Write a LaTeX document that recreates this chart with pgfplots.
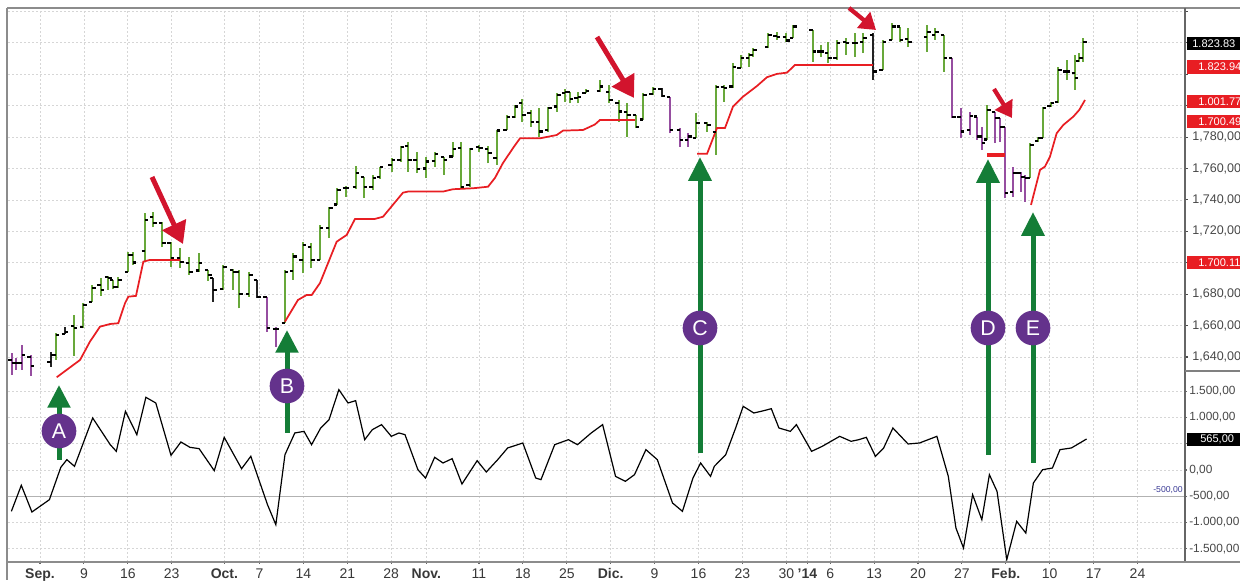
\documentclass[border=0pt]{standalone}
\usepackage{fontspec}
\setmainfont{Liberation Sans}
\usepackage{pgfplots}
\usepackage{pgfplotstable}
\pgfplotsset{compat=1.18}
\usetikzlibrary{arrows.meta}

\definecolor{bargreen}{RGB}{104,168,58}
\definecolor{barpurple}{RGB}{150,78,160}
\definecolor{stopred}{RGB}{232,30,35}
\definecolor{arrowgreen}{RGB}{20,125,55}
\definecolor{circpurple}{RGB}{100,50,140}
\definecolor{arrowred}{RGB}{210,20,45}
\definecolor{framegray}{RGB}{140,140,140}
\definecolor{gridgray}{RGB}{214,214,214}
\definecolor{labelblue}{RGB}{60,60,150}

\pgfdeclareplotmark{ltick}{\pgfpathmoveto{\pgfqpoint{-2.6pt}{0pt}}\pgfpathlineto{\pgfqpoint{0pt}{0pt}}\pgfusepathqstroke}
\pgfdeclareplotmark{rtick}{\pgfpathmoveto{\pgfqpoint{0pt}{0pt}}\pgfpathlineto{\pgfqpoint{2.6pt}{0pt}}\pgfusepathqstroke}

\pgfplotstableread{
x o h l c k
-3.22 1638.0 1642.4 1628.6 1636.2 2
-2.73 1636.2 1639.2 1631.8 1636.4 2
-2.08 1636.4 1647.7 1631.8 1641.3 2
-1.03 1640.2 1641.3 1628.1 1634.3 2
1.22 1637.0 1643.4 1633.9 1641.3 0
1.79 1641.3 1655.1 1638.1 1654.0 1
2.85 1654.7 1659.3 1654.7 1656.1 0
3.87 1659.8 1666.8 1640.9 1658.3 1
4.93 1659.0 1674.2 1658.3 1673.1 1
5.96 1675.2 1685.9 1675.2 1683.8 1
6.91 1685.9 1690.1 1678.9 1682.7 1
7.78 1690.8 1691.6 1682.7 1690.1 1
8.35 1689.1 1689.1 1683.1 1684.4 1
8.92 1684.4 1690.8 1683.8 1689.1 1
10.06 1694.3 1707.1 1694.3 1705.0 1
10.56 1705.0 1707.1 1698.6 1700.1 1
11.96 1707.7 1731.5 1700.7 1727.2 1
12.90 1729.3 1732.5 1722.6 1725.1 1
13.93 1725.1 1726.1 1709.9 1712.4 1
14.89 1712.4 1713.4 1697.5 1702.9 1
15.95 1702.9 1709.2 1696.5 1700.7 1
17.00 1699.7 1703.9 1692.2 1694.3 1
18.11 1695.0 1706.0 1694.3 1699.7 1
19.17 1695.4 1695.4 1688.6 1692.2 1
19.74 1690.1 1690.1 1675.2 1682.7 0
20.88 1683.5 1698.6 1682.7 1697.1 1
22.02 1695.4 1695.9 1682.7 1694.3 1
22.70 1694.3 1695.4 1671.0 1680.1 1
23.84 1680.1 1694.1 1678.4 1692.2 1
24.72 1689.1 1689.1 1677.4 1678.2 0
25.82 1678.2 1678.4 1656.1 1658.5 2
26.88 1657.9 1659.3 1646.4 1657.9 2
27.90 1661.8 1695.4 1661.5 1694.3 1
28.85 1694.7 1706.0 1689.1 1703.9 1
29.92 1701.8 1713.4 1693.3 1711.3 1
30.87 1710.2 1712.4 1696.5 1701.8 1
31.89 1701.8 1724.0 1701.8 1721.9 1
32.95 1722.1 1735.7 1715.6 1734.7 1
33.86 1737.0 1747.4 1736.8 1746.3 1
34.85 1747.4 1748.9 1742.1 1747.4 1
35.99 1748.4 1761.6 1746.8 1757.0 1
36.90 1754.8 1754.8 1741.1 1748.4 1
37.89 1748.4 1755.9 1746.3 1753.8 1
38.72 1754.8 1761.2 1753.2 1760.8 1
40.06 1762.3 1766.5 1758.0 1765.4 1
41.08 1765.4 1774.4 1764.4 1773.5 1
41.95 1774.4 1777.1 1758.0 1765.4 1
42.90 1765.4 1770.7 1757.0 1759.5 1
43.96 1759.9 1767.5 1753.8 1764.4 1
44.99 1764.6 1770.7 1761.2 1769.3 1
46.01 1767.3 1767.5 1755.9 1765.4 1
47.00 1767.7 1777.1 1767.5 1772.3 1
47.95 1772.9 1777.1 1747.4 1748.4 1
48.97 1749.3 1772.9 1748.4 1772.3 1
50.03 1773.5 1775.0 1770.7 1772.9 1
51.06 1772.3 1774.4 1763.3 1769.7 1
52.02 1766.5 1784.5 1762.3 1784.1 1
53.16 1784.5 1794.1 1784.5 1792.6 1
54.10 1792.8 1800.4 1792.0 1799.4 1
54.95 1801.5 1804.1 1789.8 1794.1 1
55.89 1795.2 1797.3 1786.6 1789.8 1
56.87 1789.8 1798.3 1780.3 1783.5 1
57.89 1784.5 1799.4 1783.5 1798.3 1
58.92 1799.4 1807.9 1796.2 1806.8 1
59.85 1807.9 1810.4 1802.5 1808.9 1
60.31 1808.9 1808.9 1801.5 1804.1 1
61.22 1804.7 1808.9 1801.5 1805.3 1
62.13 1808.0 1810.4 1807.9 1809.5 1
63.78 1809.5 1816.4 1808.9 1812.1 1
64.86 1808.9 1813.2 1801.5 1803.6 1
65.89 1801.9 1803.6 1789.8 1796.2 1
66.86 1796.0 1801.5 1780.3 1794.1 1
67.88 1794.1 1794.1 1785.6 1786.6 1
68.71 1791.2 1807.9 1790.9 1806.8 1
69.79 1807.5 1811.7 1806.8 1810.4 1
70.81 1810.4 1811.1 1805.7 1806.2 0
71.75 1805.7 1805.7 1782.4 1784.5 2
72.89 1784.5 1785.6 1773.9 1778.2 2
73.84 1778.2 1782.4 1773.9 1780.3 2
74.72 1779.5 1795.2 1779.2 1788.8 1
76.00 1788.8 1789.8 1783.5 1787.7 1
76.99 1783.1 1813.2 1768.6 1811.7 1
77.90 1811.7 1813.2 1802.5 1811.1 1
78.90 1812.1 1827.0 1811.1 1824.8 1
79.81 1824.0 1832.3 1823.8 1830.2 1
80.79 1830.4 1833.4 1824.8 1832.3 1
81.24 1832.3 1836.5 1831.2 1835.5 1
82.95 1837.5 1846.1 1836.5 1845.0 1
83.91 1844.4 1847.1 1841.8 1843.6 1
84.97 1843.6 1846.1 1840.8 1841.4 1
85.80 1842.9 1851.4 1842.9 1850.3 1
88.01 1848.2 1848.2 1828.0 1834.4 1
88.92 1834.4 1838.6 1831.2 1834.4 1
89.78 1833.4 1840.7 1827.0 1830.2 1
90.74 1830.2 1841.8 1829.1 1840.1 1
91.80 1840.7 1842.9 1832.3 1839.7 1
92.82 1840.1 1846.1 1831.2 1840.1 1
93.77 1840.7 1846.1 1833.4 1842.9 1
94.91 1845.0 1846.1 1816.4 1821.7 0
95.98 1822.7 1841.8 1822.7 1840.7 1
97.07 1841.8 1852.4 1841.8 1850.3 1
97.95 1850.3 1850.3 1840.7 1841.8 1
98.90 1842.3 1849.3 1837.5 1840.7 1
101.06 1843.9 1851.4 1834.4 1847.1 1
101.99 1845.0 1849.3 1841.8 1847.1 1
102.96 1845.0 1845.0 1821.7 1830.2 1
103.91 1830.2 1830.2 1792.0 1792.6 2
104.87 1792.6 1798.3 1779.2 1783.5 2
105.92 1784.5 1796.2 1781.4 1793.4 2
106.76 1793.0 1793.0 1778.2 1780.3 2
107.27 1780.3 1786.6 1771.8 1776.1 2
107.89 1778.5 1800.4 1778.2 1797.3 1
108.77 1796.0 1796.2 1776.1 1792.0 2
109.34 1792.0 1792.0 1777.1 1786.6 2
109.91 1786.6 1786.6 1741.0 1744.2 2
110.85 1745.2 1761.2 1742.1 1757.0 2
111.70 1757.0 1758.0 1745.2 1754.8 2
112.19 1754.8 1755.9 1738.9 1753.8 2
112.76 1753.8 1776.1 1753.8 1775.0 1
113.70 1777.4 1780.3 1777.1 1779.2 1
114.20 1779.2 1799.4 1779.2 1798.3 1
115.11 1799.6 1802.5 1799.4 1801.5 1
115.98 1802.5 1824.8 1801.5 1822.7 1
116.94 1821.7 1829.1 1816.4 1821.7 1
117.88 1820.6 1832.3 1810.0 1817.4 1
118.34 1828.3 1833.4 1828.0 1830.2 1
118.83 1830.2 1842.9 1828.0 1840.7 1
}\bars

\pgfplotstableread{
x v
-3.26 -788
-2.13 -292
-0.92 -801
1.07 -566
2.37 51
3.06 197
3.93 70
6.00 992
8.00 483
8.69 356
9.73 1119
11.03 674
12.06 1386
13.19 1278
14.92 280
16.05 534
17.08 432
18.12 407
19.85 -13
20.98 623
22.96 25
24.01 261
25.91 -661
26.86 -1043
27.90 292
29.02 706
30.07 737
30.93 483
31.97 801
32.92 960
34.04 1532
35.08 1278
35.95 1322
36.98 578
37.85 769
38.90 865
40.01 642
40.88 706
41.57 674
43.04 6
43.91 -153
44.95 242
45.90 134
46.94 216
48.06 -267
49.79 178
50.83 -38
52.13 197
53.26 420
54.99 515
56.46 -153
57.06 -184
58.62 483
60.18 578
61.22 483
62.78 706
64.08 865
65.55 -121
66.67 -216
67.71 -89
69.01 388
70.31 197
72.04 -629
73.17 -788
74.37 -153
75.24 134
76.37 -121
76.80 70
78.10 292
79.23 801
80.09 1214
81.30 1087
82.43 1131
83.29 1169
84.16 801
85.46 737
86.15 865
87.88 356
89.09 451
91.08 642
92.38 547
93.25 578
94.11 623
95.15 261
96.09 420
97.14 801
98.87 496
100.17 515
102.15 642
103.45 -121
104.32 -1106
105.18 -1487
106.22 -470
107.27 -947
108.13 -89
109.00 -407
110.11 -1710
111.24 -979
112.28 -1202
113.14 -248
114.19 6
115.31 38
116.17 388
117.47 420
119.20 591
}\osc

\begin{document}
\begin{tikzpicture}
\path[use as bounding box] (0,0) rectangle (930pt,436.5pt);

% ---------------- upper panel: price bars ----------------
\begin{axis}[
  at={(6pt,147.75pt)}, anchor=south west,
  scale only axis, width=882.75pt, height=282.75pt,
  xmin=-3.645, xmax=130.41, ymin=1622.18, ymax=1862.15,
  axis line style={draw=none},
  xtick={0,5,10,15,21,25,30,35,40,44,50,55,60,65,70,75,80,85,87.4,90,95,100,105,110,115,120,125},
  xticklabels={}, xtick style={draw=none},
  ytick={1640,1660,1680,1700,1720,1740,1760,1780,1800,1820,1840,1860},
  yticklabels={{1,640,00},{1,660,00},{1,680,00},{},{1,720,00},{1,740,00},{1,760,00},{1,780,00},{},{},{},{}},
  ytick pos=right, yticklabel pos=right,
  ytick style={black!70, line width=0.8pt},
  tick align=outside, major tick length=2pt,
  yticklabel style={font=\fontsize{9.4}{10}\selectfont, text=black!72},
  grid=major, major grid style={gridgray, dash pattern=on 1.5pt off 1.5pt, line width=0.5pt},
  colormap={barmap}{rgb255=(35,35,35) rgb255=(104,168,58) rgb255=(150,78,160)},
  point meta min=0, point meta max=2,
]
% bar ranges (low to high), coloured by the bar's class
\addplot[quiver={u=0, v=\thisrow{h}-\thisrow{l}, colored}, point meta=\thisrow{k},
  line width=1.5pt, mark=none, -] table[x=x, y=l] {\bars};
% open / close ticks
\addplot[only marks, mark=ltick, mark options={black, line width=1.7pt}] table[x=x, y=o] {\bars};
\addplot[only marks, mark=rtick, mark options={black, line width=1.7pt}] table[x=x, y=c] {\bars};
% trailing stop (red)
\addplot[stopred, line width=1.3pt] coordinates {(1.90,1627.1) (4.56,1638.1) (5.69,1649.8) (6.83,1659.3) (7.97,1661.0) (8.92,1661.5) (9.68,1674.2) (10.06,1678.4) (10.93,1678.9) (11.77,1700.7) (12.53,1701.8) (15.95,1701.8)};
\addplot[stopred, line width=1.3pt] coordinates {(27.90,1662.5) (29.38,1676.3) (30.38,1679.5) (30.95,1679.5) (31.89,1687.1) (33.79,1713.4) (34.93,1717.7) (35.88,1727.9) (38.15,1727.9) (39.07,1729.3) (41.34,1744.6) (41.91,1745.3) (45.90,1745.3) (47.04,1746.8) (49.32,1747.4) (51.03,1748.4) (51.82,1754.0) (52.73,1763.5) (54.00,1774.0) (54.67,1779.2) (56.95,1779.2) (58.85,1781.3) (59.57,1784.1) (61.85,1784.5) (63.20,1788.0) (63.78,1790.9) (67.77,1790.9)};
\addplot[stopred, line width=1.3pt] coordinates {(74.83,1769.3) (75.97,1769.3) (77.11,1785.8) (78.02,1785.8) (78.93,1799.4) (80.07,1805.7) (81.66,1812.5) (82.80,1818.1) (83.94,1820.2) (85.08,1821.0) (85.99,1825.9) (94.87,1825.9)};
\addplot[stopred, line width=3pt] coordinates {(107.86,1768.6) (109.91,1768.6)};
\addplot[stopred, line width=1.3pt] coordinates {(112.87,1736.8) (113.90,1759.1) (114.46,1761.2) (115.03,1767.5) (115.79,1782.4) (116.55,1787.7) (117.69,1793.0) (118.37,1797.3) (119.02,1803.6)};
\end{axis}

% ---------------- lower panel: oscillator ----------------
\begin{axis}[
  at={(6pt,15pt)}, anchor=south west,
  scale only axis, width=882.75pt, height=138pt,
  xmin=-3.645, xmax=130.41, ymin=-1754.4, ymax=1754.4,
  axis line style={draw=none},
  xtick={0,5,10,15,21,25,30,35,40,44,50,55,60,65,70,75,80,85,87.4,90,95,100,105,110,115,120,125},
  xticklabels={{\textbf{Sep.}},9,16,23,{\textbf{Oct.}},7,14,21,28,{\textbf{Nov.}},11,18,25,{\textbf{Dic.}},9,16,23,30,{\textbf{'14}},6,13,20,27,{\textbf{Feb.}},10,17,24},
  xtick pos=bottom,
  xticklabel style={font=\fontsize{10.5}{12}\selectfont, text=black!78},
  ytick={-1500,-1000,-500,0,500,1000,1500},
  yticklabels={{-1.500,00},{-1.000,00},{-500,00},{0,00},{},{1.000,00},{1.500,00}},
  ytick pos=right, yticklabel pos=right,
  tick style={black!60, line width=0.8pt},
  tick align=outside, major tick length=1.5pt,
  yticklabel style={font=\fontsize{8.9}{10}\selectfont, text=black!72, inner xsep=1.5pt},
  grid=major, major grid style={gridgray, dash pattern=on 1.5pt off 1.5pt, line width=0.5pt},
]
\addplot[black!30, line width=0.9pt] coordinates {(-3.645,-500) (130.41,-500)};
\addplot[black, line width=0.9pt] table[x=x, y=v] {\osc};
\end{axis}

% ---------------- frame, annotations, value boxes ----------------
\begin{scope}[x=0.75pt, y=-0.75pt, shift={(0pt,436.5pt)}]
  \draw[black!45, line width=1.4pt] (7,8) -- (1240,8);
  \draw[framegray, line width=2.2pt] (7,8) -- (7,580);
  \draw[black!60, line width=1pt] (1185,8) -- (1185,562);
  \draw[black!50, line width=1pt] (1185,371) -- (1240,371);
  \draw[black!45, line width=1pt] (7,562) -- (1240,562);

  % value boxes on the right scale
  \fill[black] (1187,37) rectangle (1245,50);
  \node[anchor=west, text=white, inner sep=0pt, font=\fontsize{8.3}{9}\selectfont] at (1192,43.5) {1.823.83};
  \fill[stopred] (1187,60) rectangle (1245,74);
  \node[anchor=west, text=white, inner sep=0pt, font=\fontsize{8.3}{9}\selectfont] at (1198,67) {1.823.94};
  \fill[stopred] (1187,95) rectangle (1245,108);
  \node[anchor=west, text=white, inner sep=0pt, font=\fontsize{8.3}{9}\selectfont] at (1198,101.5) {1.001.77};
  \fill[stopred] (1187,115) rectangle (1245,128);
  \node[anchor=west, text=white, inner sep=0pt, font=\fontsize{8.3}{9}\selectfont] at (1198,121.5) {1.700.49};
  \fill[stopred] (1187,256) rectangle (1245,269);
  \node[anchor=west, text=white, inner sep=0pt, font=\fontsize{8.3}{9}\selectfont] at (1198,262.5) {1.700.11};
  \fill[black] (1187,433) rectangle (1245,446);
  \node[anchor=west, text=white, inner sep=0pt, font=\fontsize{8.3}{9}\selectfont] at (1200,439.5) {565,00};
  \node[anchor=east, text=labelblue, inner sep=0pt, font=\fontsize{6.5}{7}\selectfont] at (1183,490) {-500,00};

  % green arrows
  \draw[arrowgreen, line width=3.75pt, -{Triangle[length=17pt, width=16.5pt]}] (59,460) -- (59,385);
  \draw[arrowgreen, line width=3.75pt, -{Triangle[length=17pt, width=16.5pt]}] (287,433) -- (287,330);
  \draw[arrowgreen, line width=3.75pt, -{Triangle[length=18pt, width=17pt]}] (700,453) -- (700,157);
  \draw[arrowgreen, line width=3.75pt, -{Triangle[length=18pt, width=17pt]}] (988,455) -- (988,159);
  \draw[arrowgreen, line width=3.75pt, -{Triangle[length=18pt, width=17pt]}] (1033,463) -- (1033,212);

  % circled letters
  \foreach \cx/\cy/\lt in {59/431/A, 287/386/B, 700/328/C, 988/328/D, 1033/328/E}{
    \node[circle, fill=circpurple, minimum size=26pt, inner sep=0pt, text=white,
          font=\fontsize{16}{16}\selectfont] at (\cx,\cy) {\lt};
  }

  % red arrows
  \draw[arrowred, line width=3.75pt, -{Triangle[length=16pt, width=19pt]}] (152,177) -- (183,244);
  \draw[arrowred, line width=3.75pt, -{Triangle[length=16pt, width=19pt]}] (597,37) -- (634,98);
  \draw[arrowred, line width=3.2pt, -{Triangle[length=12pt, width=15pt]}] (849,8) -- (876,30);
  \draw[arrowred, line width=3.2pt, -{Triangle[length=12pt, width=15pt]}] (994,89) -- (1012,118);
\end{scope}
\end{tikzpicture}
\end{document}
